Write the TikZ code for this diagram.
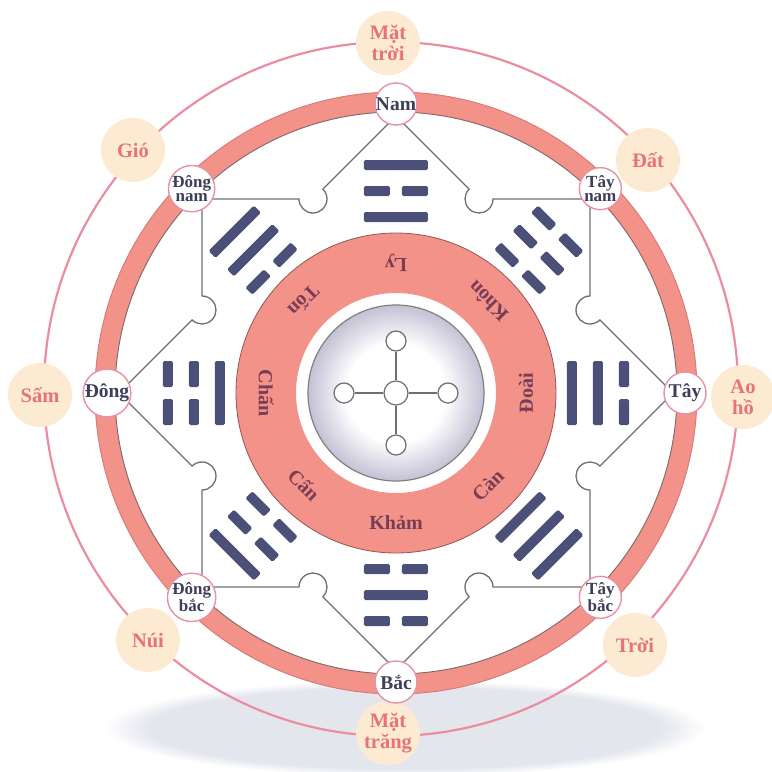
\documentclass[tikz,border=0pt]{standalone}
\usepackage{fontspec}
\setmainfont{Liberation Serif}
\usetikzlibrary{fadings}
\definecolor{ringpink}{RGB}{242,146,136}
\definecolor{ringedge}{RGB}{125,105,105}
\definecolor{ringout}{RGB}{215,120,120}
\definecolor{outerpink}{RGB}{236,140,160}
\definecolor{cream}{RGB}{252,234,210}
\definecolor{labelred}{RGB}{230,115,120}
\definecolor{dirpink}{RGB}{230,145,165}
\definecolor{dirtext}{RGB}{60,62,90}
\definecolor{barcol}{RGB}{75,80,120}
\definecolor{linegray}{RGB}{110,110,115}
\definecolor{namecol}{RGB}{120,60,85}
\definecolor{diskgray}{RGB}{196,193,212}
\definecolor{shadowcol}{RGB}{195,200,218}
\pgfdeclareradialshading{diskshade}{\pgfpoint{0bp}{0bp}}{color(0bp)=(white); color(14bp)=(white); color(25bp)=(diskgray); color(50bp)=(diskgray)}
\newcommand{\tgline}[2]{%
  \ifnum#1=1
    \fill[barcol, rounded corners=1.5] (-32,#2-5) rectangle (32,#2+5);
  \else
    \fill[barcol, rounded corners=1.5] (-32,#2-5) rectangle (-6,#2+5);
    \fill[barcol, rounded corners=1.5] (6,#2-5) rectangle (32,#2+5);
  \fi}
\tikzset{
  dirnode/.style={circle, draw=dirpink, line width=1.4, fill=white, minimum size=42, inner sep=0, text=dirtext, font=\bfseries\fontsize{19.5}{14}\selectfont, align=center},
  dirnodetwo/.style={dirnode, font=\bfseries\fontsize{17}{13.5}\selectfont},
  outernode/.style={circle, fill=cream, minimum size=64, inner sep=0, text=labelred, font=\bfseries\fontsize{20.5}{21}\selectfont, align=center},
  namenode/.style={text=namecol, font=\bfseries\fontsize{20}{20}\selectfont, inner sep=0},
  starline/.style={draw=linegray, line width=1.3},
  hub/.style={circle, draw=linegray, fill=white, line width=1.2, minimum size=24, inner sep=0},
  spoke/.style={circle, draw=linegray, fill=white, line width=1.2, minimum size=20, inner sep=0},
}
\begin{document}
\begin{tikzpicture}[x=1pt,y=1pt]
\useasboundingbox (-396,-379) rectangle (376,393);
% shadow
\fill[shadowcol, opacity=0.45, path fading=circle with fuzzy edge 15 percent] (9,-335) ellipse [x radius=300, y radius=48];
% outer circle
\draw[outerpink, line width=2.2] (-5,4) circle (347);
\node[outernode] (mattroi) at (-8,350) {Mặt\\trời};
\node[outernode] (dat) at (252,233) {Đất};
\node[outernode] (aoho) at (347,-4) {Ao\\hồ};
\node[outernode] (troi) at (239,-252) {Trời};
\node[outernode] (mattrang) at (-8,-340) {Mặt\\trăng};
\node[outernode] (nui) at (-248,-247) {Núi};
\node[outernode] (sam) at (-356,-2) {Sấm};
\node[outernode] (gio) at (-263,243) {Gió};
% thick ring
\fill[ringpink, even odd rule] (0,0) circle (301) (0,0) circle (281);
\draw[ringedge, line width=0.9] (0,0) circle (281);
\draw[ringout, line width=0.9] (0,0) circle (301);
% star outline
\foreach \k in {0,1,2,3}{
  \begin{scope}[rotate=-90*\k]
    \draw[starline] (0,277) -- (73.1,203.9) arc[start angle=135, end angle=360, radius=14]
      -- (194,194) -- (194,97) arc[start angle=90, end angle=315, radius=14] -- (277,0);
  \end{scope}
}
% trigrams
\foreach \a/\o/\m/\i in {90/1/0/1, 45/0/0/0, 0/0/1/1, -45/1/1/1, -90/0/1/0, -135/1/0/0, 180/0/0/1, 135/1/1/0}{
  \begin{scope}[rotate=\a-90]
    \tgline{\o}{228}
    \tgline{\m}{202}
    \tgline{\i}{176}
  \end{scope}
}
% direction nodes
\node[dirnode] (nam) at (90:289) {Nam};
\node[dirnodetwo] (taynam) at (45:289) {Tây\\nam};
\node[dirnode] (tay) at (0:289) {Tây};
\node[dirnodetwo] (taybac) at (-45:289) {Tây\\bắc};
\node[dirnode] (bac) at (-90:289) {Bắc};
\node[dirnodetwo] (dongbac) at (-135:289) {Đông\\bắc};
\node[dirnode] (dong) at (180:289) {Đông};
\node[dirnodetwo] (dongnam) at (135:289) {Đông\\nam};
% inner ring
\fill[ringpink, even odd rule] (0,0) circle (160) (0,0) circle (100);
\draw[ringout!70!black, line width=0.8] (0,0) circle (160);
\shade[shading=diskshade] (0,0) circle (88);
\draw[gray, line width=1.2] (0,0) circle (88);
% cross
\node[hub] (c0) at (0,0) {};
\node[spoke] (cn) at (0,52) {};
\node[spoke] (cs) at (0,-52) {};
\node[spoke] (ce) at (52,0) {};
\node[spoke] (cw) at (-52,0) {};
\foreach \p in {cn,cs,ce,cw}{\draw[linegray, line width=1.2] (c0) -- (\p);}
% trigram names
\foreach \a/\t/\nm in {90/Ly/ly, 45/Khôn/khon, 0/Đoài/doai, -45/Càn/can, -90/Khảm/kham, -135/Cấn/canmt, 180/Chấn/chan, 135/Tốn/ton}{
  \node[namenode, rotate=\a+90] (\nm) at (\a:130) {\t};
}
\end{tikzpicture}
\end{document}
